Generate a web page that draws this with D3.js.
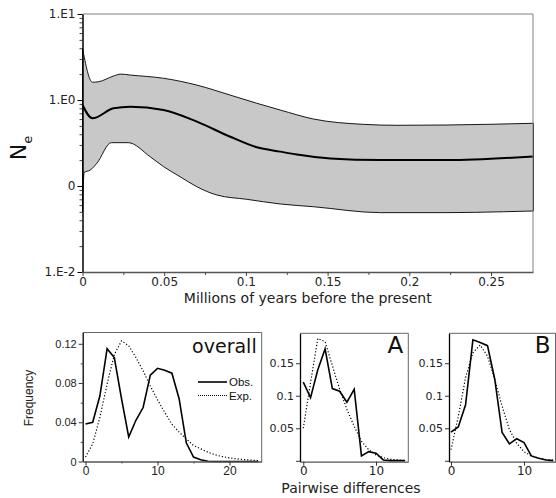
<!DOCTYPE html>
<html>
<head>
<meta charset="utf-8">
<script src="https://cdn.jsdelivr.net/npm/d3@7"></script>
<style>
  body { margin: 0; background: #fff; }
  svg { display: block; font-family: "DejaVu Sans", Verdana, sans-serif; }
</style>
</head>
<body>
<svg id="chart" width="556" height="498"></svg>
<script>
// ---- top panel: Bayesian skyline (time in Myr, Ne) ----
var meanLine = [[0, 0.875], [0.0061, 0.612], [0.019, 0.80], [0.0292, 0.835], [0.0496, 0.765],
  [0.070, 0.560], [0.0904, 0.374], [0.1067, 0.282], [0.121, 0.251], [0.1312, 0.232], [0.1516, 0.209],
  [0.1822, 0.200], [0.223, 0.200], [0.276, 0.221]];
var upperLine = [[0, 3.99], [0.0061, 1.61], [0.0098, 1.63], [0.019, 1.90], [0.0235, 2.00],
  [0.0292, 1.95], [0.0496, 1.79], [0.070, 1.49], [0.0904, 1.14], [0.1067, 0.916], [0.121, 0.765],
  [0.1414, 0.601], [0.172, 0.521], [0.1924, 0.508], [0.223, 0.512], [0.276, 0.536]];
var lowerLine = [[0, 0.0502], [0.001, 0.144], [0.0047, 0.153], [0.0088, 0.184], [0.0176, 0.319],
  [0.028, 0.319], [0.0414, 0.219], [0.0496, 0.168], [0.0598, 0.128], [0.070, 0.098], [0.0823, 0.0785],
  [0.1006, 0.070], [0.121, 0.0618], [0.1414, 0.0574], [0.1822, 0.049], [0.223, 0.049], [0.2577, 0.0502], [0.276, 0.0512]];
var neTicks = [0.01, 0.1, 1, 10];
var neTickLabels = ["1.E-2", "0", "1.E0", "1.E1"];
var timeTicks = [0, 0.05, 0.1, 0.15, 0.2, 0.25];

// ---- mismatch distributions ----
var overallObs = [0.0383, 0.040, 0.067, 0.115, 0.106, 0.064, 0.025, 0.042, 0.055, 0.088, 0.095, 0.093,
  0.090, 0.064, 0.019, 0.0045, 0.0017, 0.0003, 0, 0, 0, 0, 0, 0, 0];
var overallExp = [0.0045, 0.018, 0.045, 0.079, 0.109, 0.123, 0.118, 0.106, 0.0925, 0.077, 0.063, 0.050,
  0.038, 0.030, 0.023, 0.0163, 0.0129, 0.0095, 0.0068, 0.005, 0.0037, 0.0027, 0.002, 0.0014, 0.001];
var aObs = [0.121, 0.097, 0.140, 0.172, 0.111, 0.107, 0.090, 0.110, 0.0075, 0.014, 0.0116, 0.0013, 0.0003, 0.0003, 0.0003];
var aExp = [0.050, 0.120, 0.188, 0.183, 0.146, 0.110, 0.079, 0.053, 0.030, 0.017, 0.009, 0.005, 0.0023, 0.0013, 0.0003];
var bObs = [0.044, 0.052, 0.086, 0.186, 0.182, 0.177, 0.125, 0.0435, 0.026, 0.034, 0.028, 0.0075, 0.004, 0.0013, 0.0003];
var bExp = [0.017, 0.068, 0.128, 0.166, 0.178, 0.161, 0.125, 0.084, 0.048, 0.027, 0.014, 0.0075, 0.004, 0.002, 0.001];

var svg = d3.select("#chart");

// =========== top chart ===========
var T = {left: 82.5, right: 533, top: 14, bottom: 272};
var x = d3.scaleLinear().domain([0, 0.2757]).range([T.left, T.right]);
var y = d3.scaleLog().domain([0.01, 10]).range([T.bottom, T.top]);

var line = d3.line().curve(d3.curveMonotoneX)
  .x(function(d){return x(d[0]);}).y(function(d){return y(d[1]);});

// band = upper forward + lower backward
var lowerBack = line(lowerLine.slice().reverse());
svg.append("path")
  .attr("d", line(upperLine) + "L" + lowerBack.slice(1) + "Z")
  .attr("fill", "#c8c8c8")
  .attr("stroke", "#000")
  .attr("stroke-width", 0.9);

svg.append("path")
  .attr("d", line(meanLine))
  .attr("fill", "none")
  .attr("stroke", "#000")
  .attr("stroke-width", 2);

// frame top / right
svg.append("path")
  .attr("d", "M" + T.left + "," + T.top + "H" + T.right + "V" + T.bottom)
  .attr("fill", "none").attr("stroke", "#808080").attr("stroke-width", 1);

var minorNe = [];
[0.01, 0.1, 1].forEach(function(b){ for (var k = 2; k <= 9; k++) minorNe.push(b * k); });

svg.append("g").attr("transform", "translate(" + T.left + ",0)")
  .call(d3.axisLeft(y).tickValues(minorNe).tickFormat("").tickSize(3).tickSizeOuter(0))
  .call(function(g){ g.select(".domain").remove(); g.selectAll("line").attr("stroke", "#444"); });

var yAx = svg.append("g").attr("transform", "translate(" + T.left + ",0)")
  .call(d3.axisLeft(y).tickValues(neTicks)
    .tickFormat(function(d, i){ return neTickLabels[i]; })
    .tickSize(5).tickSizeOuter(0).tickPadding(2));
yAx.select(".domain").attr("stroke", "#000").attr("stroke-width", 1.5);
yAx.selectAll("text").attr("font-size", 12).attr("fill", "#222").attr("font-family", "DejaVu Sans");

var minorT = [0.025, 0.075, 0.125, 0.175, 0.225];
svg.append("g").attr("transform", "translate(0," + T.bottom + ")")
  .call(d3.axisBottom(x).tickValues(minorT).tickFormat("").tickSize(3).tickSizeOuter(0))
  .call(function(g){ g.select(".domain").remove(); g.selectAll("line").attr("stroke", "#444"); });

var xAx = svg.append("g").attr("transform", "translate(0," + T.bottom + ")")
  .call(d3.axisBottom(x).tickValues(timeTicks).tickFormat(d3.format("~g"))
    .tickSize(4).tickSizeOuter(0).tickPadding(1));
xAx.select(".domain").attr("stroke", "#555").attr("stroke-width", 1.5);
xAx.selectAll("line").attr("stroke", "#444");
xAx.selectAll("text").attr("font-size", 12).attr("fill", "#222").attr("font-family", "DejaVu Sans");

svg.append("text")
  .attr("x", (T.left + T.right) / 2).attr("y", 303)
  .attr("text-anchor", "middle").attr("font-size", 14).attr("fill", "#222")
  .text("Millions of years before the present");

var neLab = svg.append("text")
  .attr("transform", "translate(26,148) rotate(-90)")
  .attr("text-anchor", "middle").attr("font-size", 22).attr("fill", "#111");
neLab.append("tspan").text("N");
neLab.append("tspan").attr("font-size", 13).attr("dy", 6).text("e");

// =========== bottom panels ===========
function panel(opt) {
  var px = d3.scaleLinear().domain(opt.xd).range([opt.left, opt.right]);
  var py = d3.scaleLinear().domain(opt.yd).range([opt.bottom, opt.top]);
  var g = svg.append("g");

  // frame
  g.append("path")
    .attr("d", "M" + opt.left + "," + opt.top + "H" + opt.right + "V" + opt.bottom)
    .attr("fill", "none").attr("stroke", "#666").attr("stroke-width", 1);

  var ln = d3.line().x(function(d, i){return px(i);}).y(function(d){return py(d);});
  g.append("path").attr("d", ln(opt.exp))
    .attr("fill", "none").attr("stroke", "#000").attr("stroke-width", 1.2)
    .attr("stroke-dasharray", "1.2,2");
  g.append("path").attr("d", ln(opt.obs))
    .attr("fill", "none").attr("stroke", "#000").attr("stroke-width", 1.6);

  if (opt.yMinor) {
    g.append("g").attr("transform", "translate(" + opt.left + ",0)")
      .call(d3.axisLeft(py).tickValues(opt.yMinor).tickFormat("").tickSize(2).tickSizeOuter(0))
      .call(function(a){ a.select(".domain").remove(); a.selectAll("line").attr("stroke", "#444"); });
  }
  var ya = g.append("g").attr("transform", "translate(" + opt.left + ",0)")
    .call(d3.axisLeft(py).tickValues(opt.yTicks)
      .tickFormat(function(d){ return d === 0 && opt.hideZero ? "" : d3.format("~g")(d); })
      .tickSize(4).tickSizeOuter(0).tickPadding(2));
  ya.select(".domain").attr("stroke", "#000").attr("stroke-width", 1.3);
  ya.selectAll("line").attr("stroke", "#333");
  ya.selectAll("text").attr("font-size", opt.fs).attr("fill", "#222").attr("font-family", opt.ff);

  if (opt.xMinor) {
    g.append("g").attr("transform", "translate(0," + opt.bottom + ")")
      .call(d3.axisBottom(px).tickValues(opt.xMinor).tickFormat("").tickSize(2).tickSizeOuter(0))
      .call(function(a){ a.select(".domain").remove(); a.selectAll("line").attr("stroke", "#444"); });
  }
  var xa = g.append("g").attr("transform", "translate(0," + opt.bottom + ")")
    .call(d3.axisBottom(px).tickValues(opt.xTicks).tickSize(4).tickSizeOuter(0).tickPadding(1));
  xa.select(".domain").attr("stroke", "#555").attr("stroke-width", 1.3);
  xa.selectAll("line").attr("stroke", "#333");
  xa.selectAll("text").attr("font-size", opt.fs + 1).attr("fill", "#222").attr("font-family", opt.ff);

  g.append("text")
    .attr("x", opt.right - 5).attr("y", opt.top + 20)
    .attr("text-anchor", "end").attr("font-size", opt.titleSize).attr("fill", "#111")
    .text(opt.title);
  return {x: px, y: py};
}

panel({left: 82.7, right: 261.7, top: 332.5, bottom: 461.5,
  xd: [-0.39, 24.47], yd: [0, 0.1315],
  obs: overallObs, exp: overallExp,
  yTicks: [0, 0.04, 0.08, 0.12], yMinor: [0.02, 0.06, 0.10], xTicks: [0, 10, 20], xMinor: [5, 15],
  fs: 11, ff: "Liberation Sans", title: "overall", titleSize: 19});

panel({left: 300, right: 408.3, top: 333.3, bottom: 461.7,
  xd: [-0.45, 14.44], yd: [-0.0014, 0.196],
  obs: aObs, exp: aExp,
  yTicks: [0, 0.05, 0.1, 0.15], hideZero: true, xTicks: [0, 10],
  fs: 11, ff: "DejaVu Sans", title: "A", titleSize: 23});

panel({left: 449, right: 555.5, top: 333.3, bottom: 461.7,
  xd: [-0.27, 14.31], yd: [-0.0014, 0.196],
  obs: bObs, exp: bExp,
  yTicks: [0, 0.05, 0.1, 0.15], hideZero: true, xTicks: [0, 10],
  fs: 11, ff: "DejaVu Sans", title: "B", titleSize: 23});

// legend in overall panel
var lg = svg.append("g").attr("font-family", "Liberation Sans").attr("font-size", 11.5).attr("fill", "#111");
lg.append("line").attr("x1", 198).attr("x2", 227).attr("y1", 382).attr("y2", 382)
  .attr("stroke", "#000").attr("stroke-width", 1.6);
lg.append("line").attr("x1", 198).attr("x2", 227).attr("y1", 395.5).attr("y2", 395.5)
  .attr("stroke", "#000").attr("stroke-width", 1).attr("stroke-dasharray", "1,1");
lg.append("text").attr("x", 229).attr("y", 386).text("Obs.");
lg.append("text").attr("x", 229).attr("y", 399.5).text("Exp.");

svg.append("text")
  .attr("transform", "translate(33,398) rotate(-90)")
  .attr("text-anchor", "middle").attr("font-family", "Liberation Sans")
  .attr("font-size", 12).attr("fill", "#222").text("Frequency");

svg.append("text")
  .attr("x", 351).attr("y", 493)
  .attr("text-anchor", "middle").attr("font-size", 14).attr("fill", "#222")
  .text("Pairwise differences");
</script>
</body>
</html>
